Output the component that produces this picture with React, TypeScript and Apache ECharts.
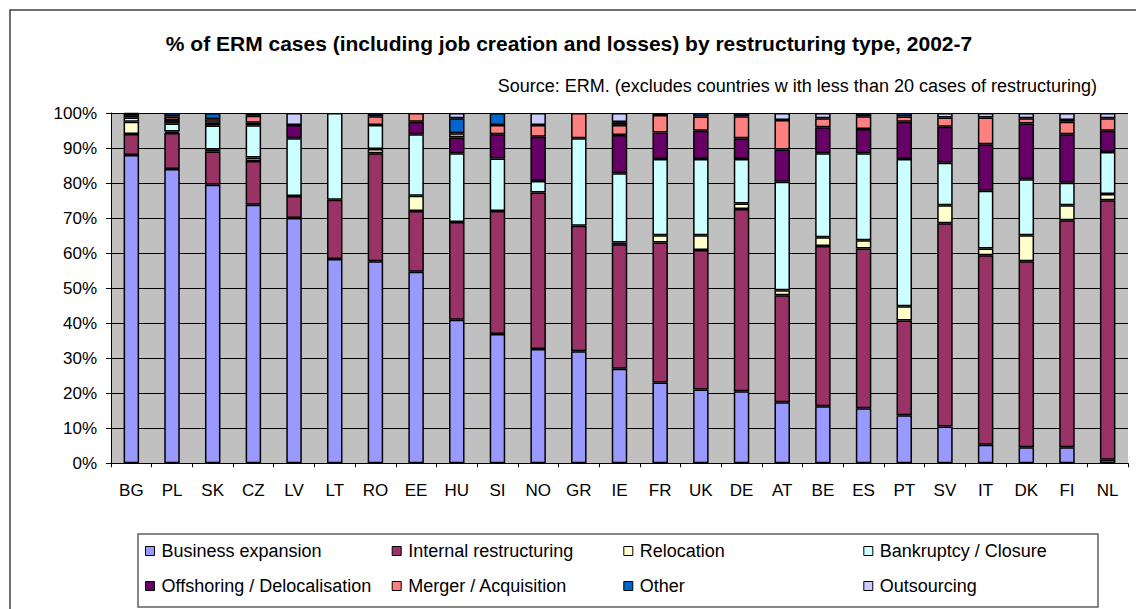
import React, { useEffect, useRef } from "react";
import * as echarts from "echarts";

const countries = ["BG","PL","SK","CZ","LV","LT","RO","EE","HU","SI","NO","GR","IE","FR","UK","DE","AT","BE","ES","PT","SV","IT","DK","FI","NL"];

const businessExpansion = [88,84,79.5,73.8,70,58.3,57.7,54.7,41,36.9,32.6,32,27,23.1,21.1,20.6,17.4,16.3,15.7,13.7,10.5,5.3,4.6,4.6,1];
const internalRestructuring = [6,10.3,9.5,12.5,6.3,16.9,30.8,17.3,27.9,35.1,44.7,35.8,35.5,39.9,39.8,52,30.6,45.7,45.6,27.1,58,54.1,53.1,64.8,74.1];
const relocation = [3.5,0.4,0.6,1,0,0,1.2,4.4,0,0,0,0,0.5,2.1,4.2,1.6,1.4,2.5,2.4,4,5.2,1.9,7.4,4.3,1.8];
const bankruptcy = [1.2,2.3,6.8,9.2,16.5,24.8,6.9,17.5,19.6,15,3.3,25,19.8,21.8,21.8,12.7,31,24,24.8,42.1,12.1,16.5,16,6.4,12];
const offshoring = [1,1,0.8,0.7,3.8,0,0,3.6,4.5,6.9,12.6,0,10.9,7.5,8,5.9,9.2,7.4,6.9,10.6,10.3,13.3,15.9,13.8,6];
const merger = [0,1,1,2,0,0,2.5,2.5,1.2,2.7,3.4,7.2,2.9,5,4.1,6.3,8.4,2.6,3.7,1.5,2.6,7.6,1.5,3.6,3.6];
const other = [0,1,1.8,0.8,0,0,0.9,0,4.3,3.4,0,0,0.8,0.6,1,0.9,0,0,0.9,1,0,0,0,0.5,0];
const outsourcing = [0.3,0,0,0,3.4,0,0,0,1.5,0,3.4,0,2.6,0,0,0,2,1.5,0,0,1.3,1.3,1.5,2,1.5];

const seriesNames = [
  "Business expansion",
  "Internal restructuring",
  "Relocation",
  "Bankruptcy / Closure",
  "Offshoring / Delocalisation",
  "Merger / Acquisition",
  "Other",
  "Outsourcing",
];
const seriesValues = [businessExpansion, internalRestructuring, relocation, bankruptcy, offshoring, merger, other, outsourcing];
const seriesColors = ["#9999FF", "#993366", "#FFFFCC", "#CCFFFF", "#660066", "#FF8080", "#0066CC", "#CCCCFF"];

const yTicks = [0, 10, 20, 30, 40, 50, 60, 70, 80, 90, 100];

const titleText = "% of ERM cases (including job creation and losses) by restructuring type, 2002-7";
const sourceText = "Source: ERM. (excludes countries w ith less than 20 cases of restructuring)";

const FONT = 'Arial, "Liberation Sans", sans-serif';

export default function App() {
  const ref = useRef<HTMLDivElement>(null);
  useEffect(() => {
    if (!ref.current) return;
    const chart = echarts.init(ref.current, undefined, { renderer: "svg" });
    const legendCols = [140, 386.7, 618.3, 858.3];
    const legends = legendCols.map((left, c) => ({
      show: true,
      orient: "vertical" as const,
      left,
      top: 537,
      itemWidth: 9,
      itemHeight: 9,
      itemGap: 17,
      icon: "rect",
      itemStyle: { borderColor: "#000", borderWidth: 1 },
      textStyle: { fontFamily: FONT, fontSize: 18, color: "#000", lineHeight: 18, padding: [0, 0, 0, 2] },
      data: [seriesNames[c], seriesNames[c + 4]],
      selectedMode: false,
    }));
    chart.setOption({
      animation: false,
      backgroundColor: "#fff",
      textStyle: { fontFamily: FONT },
      grid: {
        left: 111,
        right: 8,
        top: 113,
        bottom: 145.7,
        show: true,
        backgroundColor: "#C0C0C0",
        borderWidth: 0,
      },
      legend: legends,
      xAxis: {
        type: "category",
        data: countries,
        axisLine: { lineStyle: { color: "#000", width: 1 } },
        axisTick: { show: true, alignWithLabel: false, length: 4, lineStyle: { color: "#000" } },
        axisLabel: { fontSize: 17, color: "#000", margin: 19, fontFamily: FONT, interval: 0 },
      },
      yAxis: {
        type: "value",
        min: yTicks[0],
        max: yTicks[yTicks.length - 1],
        interval: 10,
        axisLine: { show: true, lineStyle: { color: "#000", width: 1 } },
        axisTick: { show: true, length: 5, lineStyle: { color: "#000" } },
        axisLabel: { fontSize: 17, color: "#000", margin: 14, fontFamily: FONT, formatter: "{value}%" },
        splitLine: { show: true, lineStyle: { color: "#000", width: 1 } },
      },
      series: seriesNames.map((name, i) => ({
        name,
        type: "bar",
        stack: "total",
        barWidth: 15.5,
        data: seriesValues[i].map((v) => (v === 0 ? "-" : v)),
        itemStyle: { color: seriesColors[i], borderColor: "#000", borderWidth: 1.5 },
      })),
      graphic: [
        {
          type: "rect",
          shape: { x: 10, y: 10, width: 1140, height: 640 },
          style: { fill: "none", stroke: "#404040", lineWidth: 1.5 },
          silent: true,
          z: -1,
        },
        {
          type: "rect",
          shape: { x: 138, y: 534, width: 960, height: 73 },
          style: { fill: "none", stroke: "#606060", lineWidth: 1.5 },
          silent: true,
        },
        {
          type: "text",
          x: 569,
          y: 43,
          style: {
            text: titleText,
            fontFamily: FONT,
            fontSize: 21,
            fontWeight: "bold",
            fill: "#000",
            align: "center",
            verticalAlign: "middle",
          },
        },
        {
          type: "text",
          x: 1097,
          y: 86,
          style: {
            text: sourceText,
            fontFamily: FONT,
            fontSize: 18,
            fill: "#000",
            align: "right",
            verticalAlign: "middle",
          },
        },
      ],
    });
    return () => chart.dispose();
  }, []);
  return (
    <div
      ref={ref}
      style={{ position: "absolute", left: 0, top: 0, width: 1136, height: 609 }}
    />
  );
}
